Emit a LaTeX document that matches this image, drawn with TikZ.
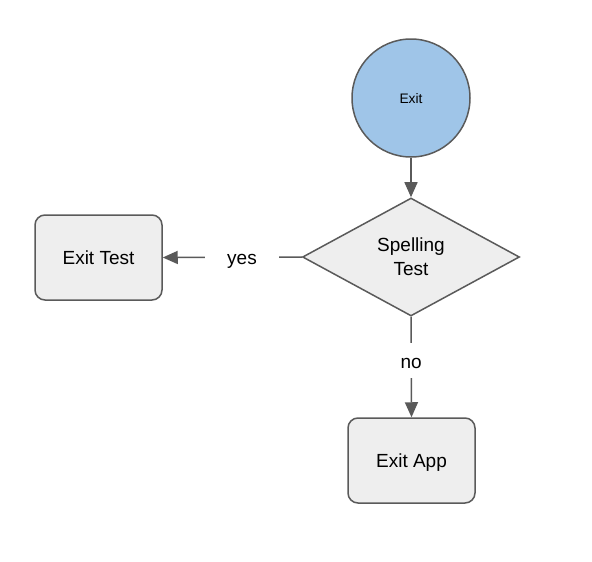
\documentclass[tikz,border=0pt]{standalone}
\usepackage{fontspec}
\setmainfont{Liberation Sans}
\usetikzlibrary{shapes.geometric,arrows.meta}
\definecolor{linegray}{HTML}{5A5A5A}
\definecolor{boxfill}{HTML}{EEEEEE}
\definecolor{circfill}{HTML}{9FC5E8}
\tikzset{
  box/.style={draw=linegray, line width=1.5pt, fill=boxfill, rounded corners=10pt,
    minimum width=127pt, minimum height=85pt, inner sep=0pt, text height=13.7pt, text depth=0pt,
    font=\fontsize{19pt}{23pt}\selectfont},
  circ/.style={draw=linegray, line width=1.5pt, fill=circfill, circle, minimum size=118pt, inner sep=0pt,
    text height=10pt, text depth=0pt, font=\fontsize{13.8pt}{16pt}\selectfont},
  dia/.style={draw=linegray, line width=1.5pt, fill=boxfill, diamond, aspect=1.839,
    minimum width=217pt, minimum height=118pt, inner sep=0pt, align=center,
    font=\fontsize{19pt}{24pt}\selectfont},
  conn/.style={draw=linegray, line width=1.5pt, -{Triangle[length=15pt,width=13pt]}},
  lbl/.style={fill=white, inner sep=0pt, text height=14pt, text depth=4pt,
    font=\fontsize{19pt}{23pt}\selectfont}
}
\begin{document}
\begin{tikzpicture}[x=1pt,y=-1pt]
\useasboundingbox (0,0) rectangle (592,562);
\node[circ] (exit) at (411,98) {Exit};
\node[dia] (spell) at (411,257) {Spelling\\Test};
\node[box] (test) at (98.5,257.5) {Exit Test};
\node[box] (app) at (411.5,460.5) {Exit App};
\draw[conn] (exit) -- (spell);
\draw[conn] (spell.west) -- node[lbl, pos=0.43, minimum width=74pt, minimum height=20pt] {\raisebox{-2.5pt}{yes}} (test.east);
\draw[conn] (spell.south) -- node[lbl, pos=0.44, minimum height=35pt, minimum width=20pt] {\raisebox{-2.5pt}{no}} (app.north);
\end{tikzpicture}
\end{document}
